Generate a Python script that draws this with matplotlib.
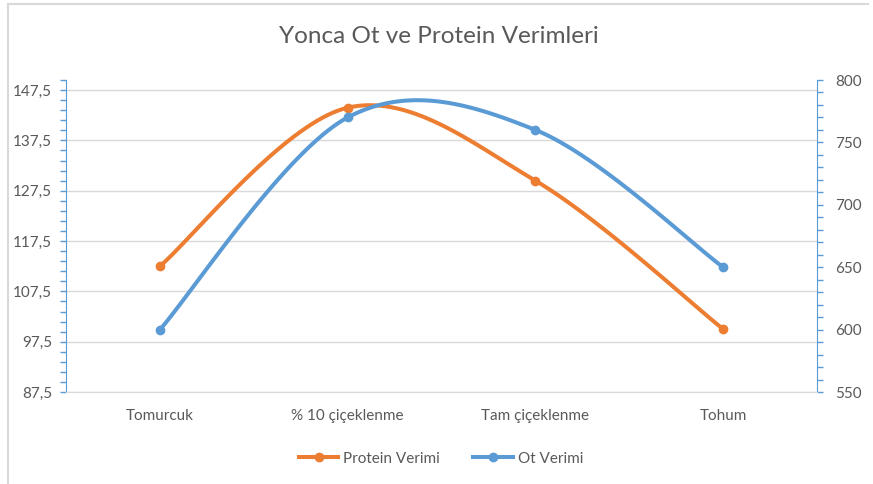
import numpy as np
import matplotlib.pyplot as plt
from matplotlib.lines import Line2D
from matplotlib.ticker import FuncFormatter

# values
stages = ['Tomurcuk', '% 10 çiçeklenme', 'Tam çiçeklenme', 'Tohum']
protein = [112.5, 144.0, 129.5, 100.0]   # left axis
ot = [600, 770, 760, 650]                # right axis

orange = '#ED7D31'
blue = '#5B9BD5'
txt = '#595959'
grid = '#D9D9D9'

plt.rcParams['font.family'] = ['Lato', 'DejaVu Sans']


def smooth(xs, ys, n=40):
	# Excel style smoothed line: bezier segments with catmull-rom control points
	xs = np.asarray(xs, float)
	ys = np.asarray(ys, float)
	px = np.concatenate([[xs[0]], xs, [xs[-1]]])
	py = np.concatenate([[ys[0]], ys, [ys[-1]]])
	outx, outy = [], []
	t = np.linspace(0, 1, n)
	for i in range(1, len(xs)):
		p0x, p0y = px[i], py[i]
		p3x, p3y = px[i + 1], py[i + 1]
		c1x = p0x + (px[i + 1] - px[i - 1]) / 6
		c1y = p0y + (py[i + 1] - py[i - 1]) / 6
		c2x = p3x - (px[i + 2] - px[i]) / 6
		c2y = p3y - (py[i + 2] - py[i]) / 6
		a = (1 - t) ** 3
		b = 3 * (1 - t) ** 2 * t
		c = 3 * (1 - t) * t ** 2
		d = t ** 3
		outx.extend(a * p0x + b * c1x + c * c2x + d * p3x)
		outy.extend(a * p0y + b * c1y + c * c2y + d * p3y)
	return outx, outy


fig = plt.figure(figsize=(8.73, 4.84), dpi=100)
ax = fig.add_axes([0.0756, 0.19, 0.8603, 0.6447])
ax2 = ax.twinx()

x = np.arange(len(stages)) + 0.5

sx, sy = smooth(x, protein)
ax.plot(sx, sy, color=orange, lw=2.9, solid_capstyle='round', zorder=3)
ax.plot(x, protein, 'o', color=orange, ms=6, zorder=4)

sx, sy = smooth(x, ot)
ax2.plot(sx, sy, color=blue, lw=2.9, solid_capstyle='round', zorder=3)
ax2.plot(x, ot, 'o', color=blue, ms=6, zorder=4)

ax.set_xlim(0, 4)
ax.set_xticks(x)
ax.set_xticklabels(stages)
ax.tick_params(axis='x', length=0, pad=12, labelsize=11, labelcolor=txt)

ax.set_ylim(87.5, 149.5)
ax.set_yticks(np.arange(87.5, 148, 10))
ax.set_yticks(np.arange(87.5, 150, 2), minor=True)
ax.yaxis.set_major_formatter(FuncFormatter(lambda v, p: ('%.1f' % v).replace('.', ',')))
ax.tick_params(axis='y', which='both', direction='out', length=4, width=1, color=blue,
	labelsize=11, labelcolor=txt, pad=6)
ax.grid(axis='y', color=grid, lw=1)
ax.set_axisbelow(True)

ax2.set_ylim(550, 800)
ax2.set_yticks(np.arange(550, 801, 50))
ax2.set_yticks(np.arange(550, 801, 10), minor=True)
ax2.tick_params(axis='y', which='both', direction='out', length=4, width=1, color=blue,
	labelsize=11, labelcolor=txt, pad=9)

for a in (ax, ax2):
	a.spines['top'].set_visible(False)
	a.spines['left'].set_color(blue)
	a.spines['right'].set_color(blue)
	a.spines['bottom'].set_color(grid)
ax2.spines['left'].set_visible(False)
ax.spines['right'].set_visible(False)

fig.text(0.503, 0.925, 'Yonca Ot ve Protein Verimleri', ha='center', va='center',
	fontsize=17.5, color=txt)

handles = [Line2D([], [], color=orange, lw=2.9, marker='o', ms=6),
	Line2D([], [], color=blue, lw=2.9, marker='o', ms=6)]
fig.legend(handles, ['Protein Verimi', 'Ot Verimi'], loc='center', bbox_to_anchor=(0.505, 0.052),
	ncol=2, frameon=False, fontsize=11, labelcolor=txt, handlelength=2.6, columnspacing=2.2,
	handletextpad=0.3)

# light chart border (top and left edges visible in the reference)
fig.add_artist(Line2D([8 / 873, 868 / 873], [1 - 4 / 484, 1 - 4 / 484], color=grid, lw=1.5))
fig.add_artist(Line2D([8 / 873, 8 / 873], [0, 1 - 4 / 484], color=grid, lw=1.5))

fig.savefig('out.png', dpi=100)
